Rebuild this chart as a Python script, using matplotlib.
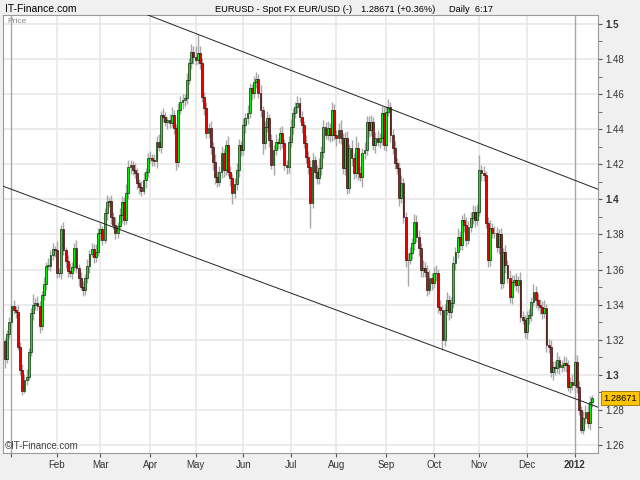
import numpy as np
import pandas as pd
import matplotlib
matplotlib.use("Agg")
import matplotlib.pyplot as plt
import matplotlib.transforms as mtransforms

plt.rcParams['font.family'] = ['Liberation Sans', 'DejaVu Sans']

# daily closes of EUR/USD (oldest first)
closes = [
    1.309, 1.323, 1.330, 1.339, 1.337, 1.336, 1.316, 1.303, 1.291, 1.297, 1.299, 1.313,
    1.335, 1.340, 1.341, 1.339, 1.328, 1.3455, 1.352, 1.362, 1.362, 1.368, 1.3715, 1.371,
    1.358, 1.358, 1.383, 1.371, 1.365, 1.359, 1.358, 1.3616, 1.372, 1.361, 1.355, 1.3502,
    1.3483, 1.355, 1.362, 1.369, 1.3715, 1.3673, 1.370, 1.381, 1.383, 1.377, 1.392, 1.3987,
    1.399, 1.390, 1.3854, 1.381, 1.385, 1.391, 1.3987, 1.3883, 1.4035, 1.4187, 1.4196, 1.4168,
    1.4149, 1.4092, 1.4072, 1.405, 1.4111, 1.4158, 1.4234, 1.4234, 1.4225, 1.422, 1.4329, 1.430,
    1.4481, 1.447, 1.4443, 1.445, 1.4434, 1.4481, 1.4405, 1.4215, 1.451, 1.4557, 1.4567, 1.4576,
    1.4681, 1.4776, 1.4842, 1.4814, 1.4795, 1.4833, 1.4776, 1.4586, 1.4519, 1.4377, 1.4405,
    1.4301, 1.4215, 1.413, 1.4101, 1.4158, 1.4263, 1.4168, 1.431, 1.4158, 1.412, 1.4035, 1.409,
    1.4168, 1.431, 1.428, 1.4424, 1.4462, 1.4491, 1.4633, 1.4605, 1.4671, 1.4685, 1.4605, 1.451,
    1.432, 1.4415, 1.4462, 1.4339, 1.4196, 1.4282, 1.4329, 1.432, 1.4377, 1.432, 1.4196,
    1.4187, 1.4329, 1.4415, 1.4491, 1.4529, 1.4548, 1.4472, 1.4424, 1.432, 1.4244, 1.4187,
    1.3978, 1.4225, 1.4158, 1.412, 1.4177, 1.4272, 1.4415, 1.4367, 1.4405, 1.4367, 1.451,
    1.4367, 1.4348, 1.4396, 1.4348, 1.4177, 1.4348, 1.4063, 1.4291, 1.4234, 1.4149, 1.4291, 1.4149,
    1.413, 1.4263, 1.4282, 1.4443, 1.4396, 1.4443, 1.431, 1.4348, 1.4329, 1.4348, 1.4491, 1.431,
    1.450, 1.4529, 1.4367, 1.4291, 1.4206, 1.4177, 1.4006, 1.4092, 1.3901, 1.3654,
    1.3654, 1.3693, 1.375, 1.3873, 1.3787, 1.372, 1.3597, 1.3607, 1.3588, 1.3483, 1.355, 1.3522,
    1.3579, 1.3579, 1.3388, 1.3369, 1.3198, 1.3369, 1.3426, 1.336, 1.3408, 1.3636, 1.3702,
    1.3787, 1.374, 1.3883, 1.3854, 1.3768, 1.3845, 1.3892, 1.393, 1.3883, 1.393, 1.4168,
    1.4149, 1.4139, 1.3864, 1.3654, 1.3835, 1.3807, 1.3807, 1.373, 1.380, 1.3522, 1.370,
    1.3626, 1.355, 1.3445, 1.3531, 1.354, 1.3512, 1.354, 1.3331, 1.3312, 1.3246, 1.3322,
    1.3341, 1.3417, 1.3474, 1.3426, 1.3398, 1.3388, 1.3351, 1.3379, 1.317, 1.316,
    1.3018, 1.3046, 1.3036, 1.3084, 1.3046, 1.3056, 1.3065, 1.3056, 1.2932,
    1.2961, 1.2942, 1.3075, 1.2932, 1.2799, 1.2685, 1.2752, 1.279, 1.2724, 1.2847, 1.28671,
]
first_open = 1.319

# shadow lengths above / below the body, in pips
upper_pips = [
    20, 25, 30, 15, 35, 20, 40, 25, 30, 35, 45, 20,
    30, 60, 25, 40, 30, 20, 35, 25, 45, 30, 35, 20,
    50, 30, 25, 40, 20, 35, 45, 25, 30, 50, 20, 35,
    30, 25, 40, 20, 35, 30, 45, 25, 35, 20, 30, 40,
    25, 35, 30, 45, 20, 40, 30, 25, 55, 35, 30, 25,
    40, 30, 25, 35, 45, 20, 30, 40, 25, 35, 30, 45,
    25, 40, 30, 20, 35, 45, 30, 25, 40, 30, 35, 25,
    40, 30, 45, 35, 60, 107, 40, 30, 25, 35, 30, 40,
    25, 45, 30, 35, 40, 25, 30, 50, 35, 25, 30, 40,
    35, 25, 40, 30, 45, 30, 25, 35, 40, 30, 45, 25,
    30, 40, 25, 35, 30, 45, 20, 35, 40, 25, 30, 35,
    45, 30, 25, 40, 35, 30, 25, 45, 30, 35, 40, 25,
    40, 60, 30, 35, 25, 40, 30, 45, 35, 30, 40, 55,
    30, 35, 40, 25, 45, 30, 70, 35, 40, 30, 45, 35,
    30, 40, 25, 35, 45, 30, 40, 35, 30, 45, 25, 35,
    40, 30, 35, 45, 30, 25, 40, 35, 30, 45, 35, 40,
    30, 45, 35, 40, 50, 30, 35, 45, 25, 40, 30, 35,
    45, 30, 35, 40, 25, 50, 35, 30, 40, 45, 30, 35,
    40, 30, 45, 85, 30, 40, 25, 35, 45, 30, 40, 35,
    30, 35, 25, 40, 30, 45, 35, 30, 40, 25, 45, 35,
    30, 40, 35, 25, 45, 30, 40, 35, 30, 45, 25, 35,
    40, 30, 35, 45, 25, 30, 40, 35, 30, 25, 45, 40,
    35, 30, 25, 40, 35, 45, 30, 20,
]
lower_pips = [
    50, 25, 20, 30, 25, 35, 20, 30, 25, 16, 30, 20,
    25, 35, 30, 20, 40, 25, 30, 35, 20, 30, 25, 40,
    30, 20, 35, 25, 40, 30, 20, 35, 25, 30, 45, 20,
    35, 30, 25, 40, 20, 35, 30, 25, 45, 30, 20, 35,
    30, 40, 25, 35, 30, 20, 45, 30, 25, 35, 40, 30,
    25, 35, 40, 30, 20, 45, 30, 25, 35, 30, 40, 25,
    35, 30, 25, 40, 30, 20, 35, 45, 30, 25, 40, 35,
    30, 25, 35, 40, 30, 25, 35, 30, 40, 25, 30, 45,
    50, 40, 30, 25, 35, 40, 30, 25, 45, 60, 30, 35,
    40, 30, 25, 45, 35, 30, 40, 25, 35, 30, 40, 60,
    35, 30, 40, 25, 55, 30, 35, 40, 25, 30, 45, 35,
    30, 40, 25, 35, 30, 45, 25, 35, 40, 141, 25, 35,
    30, 30, 40, 35, 25, 30, 40, 35, 30, 45, 25, 30,
    35, 40, 30, 25, 45, 35, 30, 40, 25, 60, 35, 30,
    40, 35, 30, 45, 25, 35, 40, 30, 35, 25, 40, 30,
    35, 30, 45, 25, 35, 40, 150, 25, 35, 40, 30, 45,
    40, 40, 30, 35, 25, 40, 30, 45, 35, 30, 58, 35,
    30, 45, 35, 25, 40, 35, 30, 30, 40, 35, 25, 30,
    35, 40, 30, 25, 45, 35, 30, 40, 35, 30, 25, 30,
    40, 35, 30, 45, 25, 35, 40, 30, 35, 45, 30, 25,
    35, 40, 30, 35, 25, 45, 30, 40, 35, 30, 40, 35,
    30, 45, 35, 25, 40, 30, 35, 40, 25, 35, 30, 40,
    35, 30, 15, 20, 35, 30, 40, 30,
]

start_day = '2010-12-29'
last_price = '1.28671'
title = 'EURUSD - Spot FX EUR/USD (-)'
change = '1.28671 (+0.36%)'
period = 'Daily  6:17'

# channel lines: (candle index, price) anchors
upper_channel = ([66, 271], [1.5051, 1.4071])
lower_channel = ([0, 271], [1.4071, 1.2828])

y_ticks = [1.26, 1.28, 1.30, 1.32, 1.34, 1.36, 1.38, 1.40, 1.42, 1.44, 1.46, 1.48, 1.50]

c = np.array(closes)
o = np.r_[first_open, c[:-1]]
hi = np.maximum(o, c) + np.array(upper_pips) * 1e-4
lo = np.minimum(o, c) - np.array(lower_pips) * 1e-4
n = len(c)
x = np.arange(n)
dates = pd.bdate_range(start_day, periods=n)

fig = plt.figure(figsize=(6.4, 4.8), dpi=100, facecolor='#f0f0f0')
ax = fig.add_axes([3/640, 1 - 453/480, 595/640, 438/480])
ax.set_facecolor('white')

xmin, xmax = -0.9, 273.8
ax.set_xlim(xmin, xmax)
ax.set_ylim(1.2554, 1.5051)

# grid
for t in y_ticks:
    ax.axhline(t, color='#e8e8e8', lw=1.2, zorder=0)
month_idx = [i for i in range(1, n) if dates[i].month != dates[i-1].month]
labels = []
for i in month_idx:
    if dates[i].month == 1:
        ax.axvline(i, color='#a8a8a8', lw=1.0, zorder=0)
        labels.append(str(dates[i].year) if i > 10 else '')
    else:
        ax.axvline(i, color='#e8e8e8', lw=1.2, zorder=0)
        labels.append(dates[i].strftime('%b'))

# channel lines
for xs, ys in (upper_channel, lower_channel):
    k = (ys[1] - ys[0]) / (xs[1] - xs[0])
    ax.plot([xmin, xmax], [ys[0] + k*(xmin - xs[0]), ys[0] + k*(xmax - xs[0])],
            color='#222222', lw=0.7, zorder=4)

# candles
up = c >= o
cols = np.where(up, '#00f000', '#e80000')
ax.vlines(x, lo, hi, color='#a8a8a8', lw=1.0, zorder=2)
ax.bar(x, np.maximum(np.abs(c - o), 0.0003), bottom=np.minimum(o, c), width=0.85,
       color=cols, edgecolor='black', linewidth=0.4, zorder=3)

# axes styling
for s in ax.spines.values():
    s.set_color('#9a9a9a')
    s.set_linewidth(0.8)
ax.yaxis.tick_right()
ax.set_yticks(y_ticks)
ylabs = ax.set_yticklabels([f'{round(t, 2):g}' for t in y_ticks])
for t, lab in zip(y_ticks, ylabs):
    if abs(t * 10 - round(t * 10)) < 1e-6:
        lab.set_fontweight('bold')
ax.set_yticks(np.arange(1.27, 1.50, 0.02), minor=True)
ax.tick_params(axis='y', which='both', direction='out', length=3, labelsize=7,
               colors='#555555', labelcolor='#333333', pad=2)
ax.set_xticks(month_idx)
xlabs = ax.set_xticklabels(labels)
for lab in xlabs:
    if lab.get_text().isdigit():
        lab.set_fontweight('bold')
ax.tick_params(axis='x', direction='out', length=3, labelsize=7,
               colors='#555555', labelcolor='#333333', pad=2)

# texts
ax.text(0.008, 0.993, 'Price', transform=ax.transAxes, fontsize=6, color='#888888',
        va='top', ha='left')
ax.text(0.003, 0.005, '©IT-Finance.com', transform=ax.transAxes, fontsize=7,
        color='#444444', va='bottom', ha='left')
fig.text(5/640, 1 - 9/480, 'IT-Finance.com', fontsize=7.5, va='center', ha='left')
fig.text(215/640, 1 - 9/480, title, fontsize=6.7, va='center', ha='left')
fig.text(361/640, 1 - 9/480, change, fontsize=6.7, va='center', ha='left')
fig.text(449/640, 1 - 9/480, period, fontsize=6.7, va='center', ha='left')

trans = mtransforms.blended_transform_factory(ax.transAxes, ax.transData)
ax.text(1.009, c[-1], last_price, transform=trans, fontsize=6.7, va='center', ha='left',
        bbox=dict(boxstyle='square,pad=0.25', fc='#ffc400', ec='#9a7000', lw=0.6),
        clip_on=False, zorder=6)

fig.savefig('out.png', dpi=100, facecolor=fig.get_facecolor())
